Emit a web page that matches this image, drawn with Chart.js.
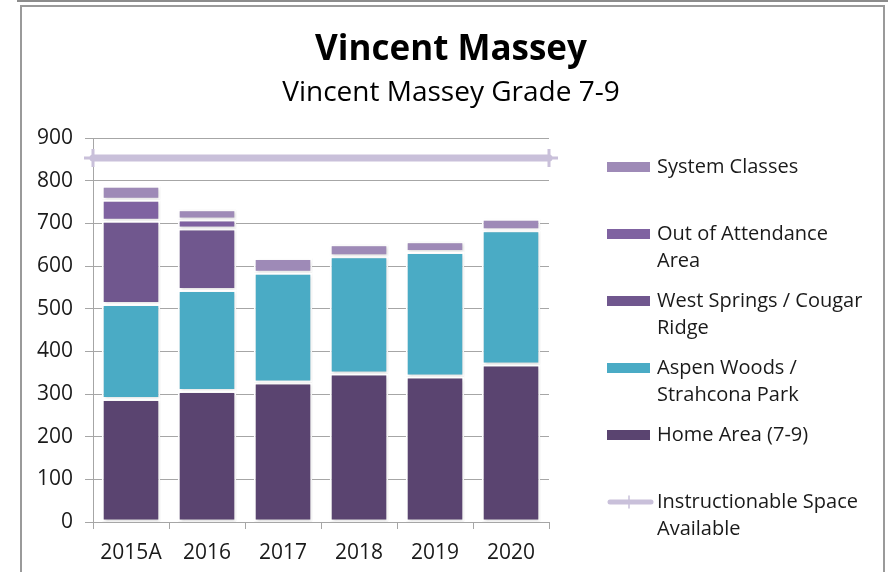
<!DOCTYPE html>
<html>
<head>
<meta charset="utf-8">
<title>Vincent Massey</title>
<script src="https://cdn.jsdelivr.net/npm/chart.js@4.4.1/dist/chart.umd.min.js"></script>
<style>
    html, body { margin: 0; padding: 0; background: #fff; }
    #wrap { position: relative; width: 888px; height: 572px; overflow: hidden; }
    #topline { position: absolute; left: 17px; top: 0; width: 871px; height: 2px; background: #8c8c8c; }
    #frame { position: absolute; left: 20px; top: 5px; width: 861px; height: 620px; border: 2px solid #9a9a9a; }
    #chart { position: absolute; left: 0; top: 0; }
</style>
</head>
<body>
<div id="wrap">
    <div id="topline"></div>
    <div id="frame"></div>
    <canvas id="chart" width="888" height="572"></canvas>
</div>
<script>
// Chart data
const categories = ['2015A', '2016', '2017', '2018', '2019', '2020'];
const homeArea = [288, 307, 327, 348, 341, 369];
const aspenWoods = [223, 237, 257, 275, 292, 315];
const westSprings = [195, 144, 0, 0, 0, 0];
const outOfAttendance = [49, 21, 0, 0, 0, 0];
const systemClasses = [33, 24, 35, 28, 25, 27];
const spaceAvailable = [853, 853];
const yTicks = [0, 100, 200, 300, 400, 500, 600, 700, 800, 900];

const titleText = 'Vincent Massey';
const subtitleText = 'Vincent Massey Grade 7-9';

const FONT = '"Open Sans", "DejaVu Sans", sans-serif';
const TEXT = '#1a1a1a';
const GRID = '#a6a6a6';

function barSet(label, data, color) {
    return {
        type: 'bar',
        label: label,
        data: data,
        backgroundColor: color,
        borderColor: '#ffffff',
        borderWidth: 2,
        borderSkipped: false,
        barPercentage: 0.77,
        categoryPercentage: 1,
        grouped: false,
        xAxisID: 'x',
        stack: 'enrol',
        order: 2
    };
}

// Soft shadow behind the bars, like the original
const barShadow = {
    id: 'barShadow',
    beforeDatasetDraw(chart, args) {
        if (args.meta.type !== 'bar') return;
        const ctx = chart.ctx;
        ctx.save();
        ctx.shadowColor = 'rgba(0, 0, 0, 0.18)';
        ctx.shadowBlur = 3;
        ctx.shadowOffsetX = 1;
        ctx.shadowOffsetY = 1;
    },
    afterDatasetDraw(chart, args) {
        if (args.meta.type !== 'bar') return;
        chart.ctx.restore();
    }
};

// Legend + title drawn on the canvas so long names wrap like the original
const sideLegend = {
    id: 'sideLegend',
    afterDraw(chart) {
        const ctx = chart.ctx;
        ctx.save();
        ctx.fillStyle = '#000';
        ctx.textAlign = 'center';
        ctx.textBaseline = 'alphabetic';
        ctx.font = 'bold 35px ' + FONT;
        ctx.fillText(titleText, 451, 60);
        ctx.font = '28px ' + FONT;
        ctx.fillText(subtitleText, 451, 101);

        ctx.font = '20px ' + FONT;
        ctx.textAlign = 'left';
        ctx.textBaseline = 'middle';
        const sets = chart.data.datasets.slice().reverse();
        const lineSet = sets.shift();
        sets.push(lineSet);
        sets.forEach((ds, i) => {
            const y = 167 + 67 * i;
            if (ds.type === 'line') {
                ctx.strokeStyle = ds.borderColor;
                ctx.lineWidth = 5;
                ctx.lineCap = 'round';
                ctx.beginPath();
                ctx.moveTo(610, y);
                ctx.lineTo(651, y);
                ctx.stroke();
                ctx.lineWidth = 1.5;
                ctx.beginPath();
                ctx.moveTo(629, y - 6);
                ctx.lineTo(629, y + 6);
                ctx.stroke();
            } else {
                ctx.fillStyle = ds.backgroundColor;
                ctx.fillRect(607, y - 5, 43, 10);
            }
            // simple word wrap
            const words = ds.label.split(' ');
            const lines = [];
            let cur = '';
            words.forEach(w => {
                const test = cur ? cur + ' ' + w : w;
                if (ctx.measureText(test).width > 212 && cur) {
                    lines.push(cur);
                    cur = w;
                } else {
                    cur = test;
                }
            });
            lines.push(cur);
            ctx.fillStyle = TEXT;
            lines.forEach((ln, j) => ctx.fillText(ln, 657, y + 27 * j));
        });
        ctx.restore();
    }
};

new Chart(document.getElementById('chart'), {
    data: {
        labels: categories,
        datasets: [
            barSet('Home Area (7-9)', homeArea, '#5a4470'),
            barSet('Aspen Woods / Strahcona Park', aspenWoods, '#4aabc5'),
            barSet('West Springs / Cougar Ridge', westSprings, '#70578e'),
            barSet('Out of Attendance Area', outOfAttendance, '#7f62a1'),
            barSet('System Classes', systemClasses, '#9e8ab7'),
            {
                type: 'line',
                label: 'Instructionable Space Available',
                data: spaceAvailable.map((v, i) => ({ x: i * categories.length, y: v })),
                xAxisID: 'x2',
                stack: 'space',
                borderColor: '#c9c0da',
                borderWidth: 7,
                borderCapStyle: 'round',
                pointStyle: 'cross',
                pointRadius: 9,
                pointBorderWidth: 3,
                pointBorderColor: '#c9c0da',
                pointBackgroundColor: '#c9c0da',
                clip: false,
                order: 1
            }
        ]
    },
    options: {
        responsive: false,
        animation: false,
        layout: {
            padding: { left: 0, right: 339, top: 138, bottom: 0 }
        },
        plugins: {
            legend: { display: false },
            title: { display: false },
            tooltip: { enabled: false }
        },
        scales: {
            x: {
                type: 'category',
                stacked: true,
                offset: true,
                afterFit: s => { s.height = 50; },
                grid: {
                    offset: true,
                    drawOnChartArea: false,
                    color: GRID,
                    tickLength: 7
                },
                border: { color: GRID, width: 1 },
                ticks: {
                    color: TEXT,
                    font: { family: FONT, size: 21 },
                    padding: 11,
                    maxRotation: 0
                }
            },
            x2: {
                type: 'linear',
                display: false,
                min: 0,
                max: categories.length
            },
            y: {
                stacked: true,
                min: yTicks[0],
                max: yTicks[yTicks.length - 1],
                afterFit: s => { s.width = 93; },
                afterBuildTicks: s => { s.ticks = yTicks.map(v => ({ value: v })); },
                grid: {
                    color: GRID,
                    tickLength: 8
                },
                border: { color: GRID, width: 1 },
                ticks: {
                    color: TEXT,
                    font: { family: FONT, size: 21 },
                    padding: 12
                }
            }
        }
    },
    plugins: [barShadow, sideLegend]
});
</script>
</body>
</html>
